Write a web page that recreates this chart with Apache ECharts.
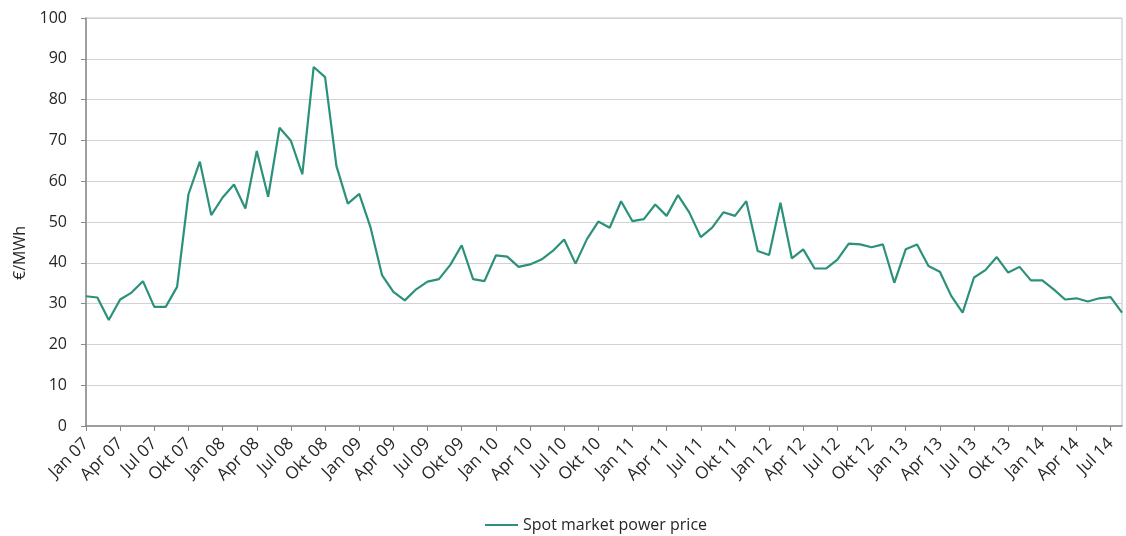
<!DOCTYPE html>
<html>
<head>
<meta charset="utf-8">
<script src="https://cdn.jsdelivr.net/npm/echarts@6/dist/echarts.min.js"></script>
<style>
	html, body { margin: 0; padding: 0; background: #fff; }
	#spotPriceContainer { width: 1126px; height: 536px; }
</style>
</head>
<body>
<div id="spotPriceContainer"></div>

<script>
// month labels (German) and years used for the category axis
var monthNames = ['Jan','Feb','Mrz','Apr','Mai','Jun','Jul','Aug','Sep','Okt','Nov','Dez'];
var years = ['07','08','09','10','11','12','13','14'];

// spot market power price, EUR/MWh, Jan 07 .. Aug 14
var spotPrice = [
	31.8, 31.5, 26.0, 31.0, 32.7, 35.5, 29.2, 29.2, 34.1, 56.8, 64.8, 51.7,
	56.0, 59.2, 53.3, 67.4, 56.2, 73.1, 69.9, 61.7, 88.0, 85.5, 63.7, 54.5,
	56.9, 48.6, 37.0, 32.9, 30.8, 33.5, 35.4, 36.0, 39.5, 44.3, 36.0, 35.5,
	41.8, 41.5, 39.0, 39.6, 40.8, 42.9, 45.7, 39.8, 45.8, 50.1, 48.6, 55.1,
	50.2, 50.7, 54.3, 51.5, 56.6, 52.3, 46.3, 48.6, 52.4, 51.5, 55.1, 42.9,
	41.9, 54.7, 41.1, 43.3, 38.6, 38.6, 40.8, 44.7, 44.5, 43.8, 44.5, 35.1,
	43.3, 44.5, 39.2, 37.8, 31.9, 27.8, 36.4, 38.2, 41.4, 37.6, 39.0, 35.7,
	35.7, 33.5, 31.0, 31.3, 30.5, 31.3, 31.6, 27.8
];

var X = [];
for (var i = 0; i < spotPrice.length; i++) {
	X.push(monthNames[i % 12] + ' ' + years[Math.floor(i / 12)]);
}

var myChart = echarts.init(document.getElementById('spotPriceContainer'));
var option = {
	animation: false,
	textStyle: { fontFamily: 'Open Sans' },
	grid: {
		left: 86,
		right: 4,
		top: 18,
		bottom: 110,
		show: true,
		borderColor: '#c4c4c4',
		borderWidth: 1
	},
	legend: {
		data: ['Spot market power price'],
		left: 480,
		top: 512,
		icon: 'rect',
		itemWidth: 33,
		itemHeight: 2,
		itemGap: 3,
		textStyle: { color: '#262626', fontSize: 16, fontFamily: 'Open Sans' }
	},
	xAxis: [{
		type: 'category',
		data: X,
		boundaryGap: false,
		axisLine: { lineStyle: { color: '#8a8a8a', width: 1.5 } },
		axisTick: { show: true, interval: 2, length: 5, lineStyle: { color: '#8a8a8a' } },
		axisLabel: {
			interval: 2,
			rotate: 45,
			margin: 15,
			color: '#262626',
			fontSize: 17
		},
		splitLine: { show: false }
	}],
	yAxis: [{
		type: 'value',
		min: 0,
		max: 100,
		interval: 10,
		name: '€/MWh',
		nameLocation: 'middle',
		nameGap: 56,
		nameRotate: 90,
		nameTextStyle: { color: '#262626', fontSize: 16, padding: [0, 62, 0, 0] },
		axisLine: { show: true, lineStyle: { color: '#8a8a8a', width: 1.5 } },
		axisTick: { show: true, inside: false, length: 5, lineStyle: { color: '#8a8a8a' } },
		axisLabel: { color: '#262626', fontSize: 16, margin: 19 },
		splitLine: { show: true, lineStyle: { color: '#d2d2d2', width: 1 } }
	}],
	series: [{
		name: 'Spot market power price',
		type: 'line',
		data: spotPrice,
		symbol: 'none',
		smooth: false,
		lineStyle: { color: '#2b917b', width: 2.2 },
		itemStyle: { color: '#2b917b' }
	}]
};
myChart.setOption(option);
</script>
</body>
</html>
